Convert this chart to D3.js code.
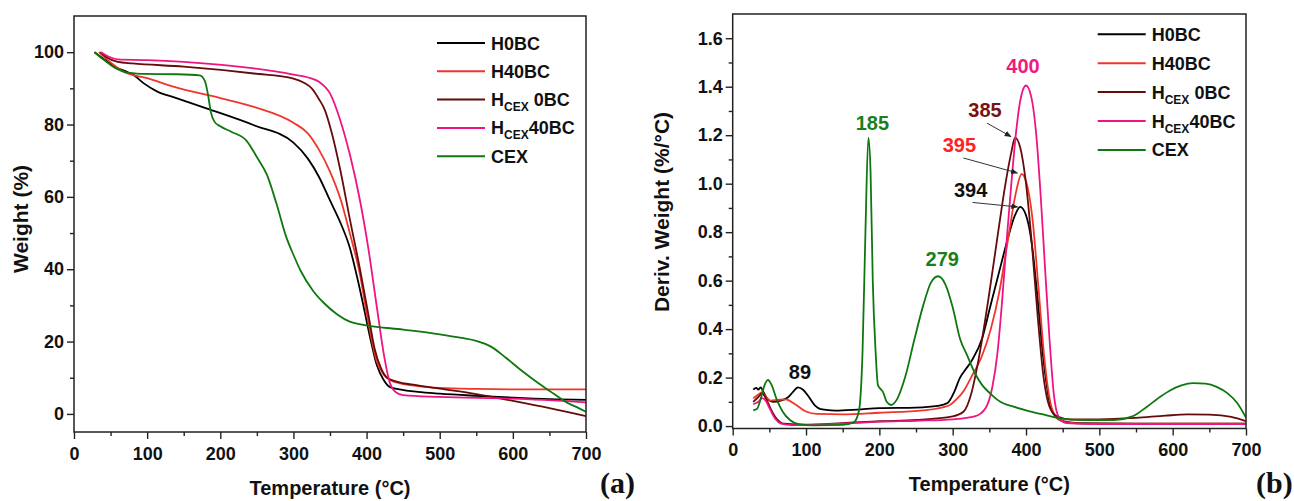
<!DOCTYPE html>
<html>
<head>
<meta charset="utf-8">
<script src="https://cdn.jsdelivr.net/npm/d3@7"></script>
<style>
    body { margin: 0; background: #fff; }
    text { font-family: "Liberation Sans", Arial, sans-serif; font-weight: bold; }
</style>
</head>
<body>
<div id="chart"></div>
<script>

// ---- data ----
const seriesKeys = ["H0BC", "H40BC", "HCEX0BC", "HCEX40BC", "CEX"];
const seriesColors = ["#000000", "#f2352b", "#650b0b", "#ef1481", "#0e780e"];

// TGA: [temperature °C, weight %]
const tgaH0BC = [[28,100],[40,98.2],[55,96],[70,94.8],[82,93.6],[96,91.3],[114,89.1],[137,87.5],[182,84.4],[246,79.8],[300,75],
    [320,70.5],[335,65.5],[350,59],[365,52.5],[377,46],[388,37],[396,29.6],[405,21],[414,13.5],[423,9.5],[432,7.4],[445,6.8],
    [470,6.1],[500,5.6],[550,5],[600,4.5],[650,4.1],[700,3.9]];
const tgaH40BC = [[34,100],[45,98],[68,94.6],[100,92.8],[137,90.4],[200,87.3],[246,84.9],[300,80.5],[320,77.5],[335,73],
    [350,67],[365,59],[377,50],[391,38.5],[400,28],[414,14.5],[423,11],[432,9.4],[445,8.5],[470,7.7],[500,7.2],[550,6.9],
    [600,6.8],[700,6.8]];
const tgaHCEX0BC = [[36,100],[45,98.5],[60,97.3],[80,96.9],[150,96],[246,94.1],[300,92.7],[315,91.5],[325,90],[335,87],
    [343,84],[352,78],[364,67.5],[377,54],[391,40],[402,28],[411,18],[420,12.5],[428,10],[440,9],[470,7.9],[500,7],
    [550,5.5],[600,3.6],[650,1.6],[700,-0.6]];
const tgaHCEX40BC = [[37,100],[47,98.8],[60,98],[100,97.8],[150,97.3],[246,95.5],[300,93.8],[320,93],[335,91.8],[350,88.6],
    [364,81.2],[378,71],[391,59],[403,45],[414,29.6],[424,16],[432,8.5],[440,6],[450,5.2],[500,4.7],[600,4.2],[700,3.2]];
const tgaCEX = [[28,100],[40,98],[55,95.8],[75,94.3],[100,94],[140,93.9],[172,93.6],[179,92],[183,88.5],[187,83.5],[192,80.8],
    [200,79.5],[215,78],[236,75.5],[250,71],[264,66],[277,58],[290,49],[300,44],[310,39.5],[327,34],[341,30.8],[360,27.5],
    [377,25.5],[400,24.5],[450,23.3],[500,22],[530,21],[550,20.2],[570,18.6],[590,15.6],[610,12.3],[635,8.5],[655,5.7],
    [675,3],[690,1.6],[700,0.6]];

// DTG: [temperature °C, deriv. weight %/°C]
const dtgH0BC = [[28,0.15],[32,0.158],[35,0.15],[38,0.16],[42,0.14],[48,0.11],[55,0.1],[65,0.105],[75,0.118],[82,0.14],
    [89,0.16],[96,0.15],[104,0.12],[112,0.085],[120,0.07],[140,0.064],[170,0.068],[200,0.074],[250,0.076],[280,0.083],
    [293,0.095],[302,0.14],[310,0.2],[318,0.235],[326,0.27],[340,0.36],[351,0.49],[362,0.62],[374,0.76],[385,0.87],
    [392,0.904],[400,0.87],[408,0.75],[416,0.52],[424,0.27],[432,0.1],[440,0.04],[450,0.02],[470,0.012],[550,0.01],[700,0.01]];
const dtgH40BC = [[28,0.115],[35,0.13],[40,0.14],[45,0.12],[52,0.105],[62,0.108],[72,0.11],[85,0.09],[100,0.06],[115,0.05],
    [150,0.048],[200,0.055],[260,0.065],[295,0.085],[305,0.11],[315,0.145],[325,0.2],[340,0.29],[352,0.4],[364,0.56],
    [376,0.78],[386,0.96],[394,1.04],[401,1.0],[409,0.85],[417,0.57],[425,0.28],[433,0.1],[442,0.035],[455,0.015],
    [480,0.01],[700,0.01]];
const dtgHCEX0BC = [[28,0.1],[35,0.12],[40,0.135],[46,0.11],[52,0.07],[60,0.03],[70,0.01],[100,0.006],[150,0.012],[200,0.02],
    [250,0.025],[300,0.04],[315,0.06],[325,0.13],[335,0.27],[350,0.55],[362,0.8],[372,1.0],[380,1.13],[385,1.19],[392,1.15],
    [400,1.0],[408,0.75],[416,0.45],[424,0.2],[432,0.08],[442,0.04],[460,0.028],[500,0.028],[550,0.034],[590,0.043],
    [620,0.048],[650,0.047],[680,0.038],[700,0.02]];
const dtgHCEX40BC = [[28,0.09],[35,0.1],[40,0.115],[45,0.105],[50,0.075],[58,0.03],[66,0.01],[80,0.004],[150,0.01],[200,0.018],
    [250,0.022],[300,0.028],[330,0.04],[345,0.075],[354,0.16],[361,0.3],[367,0.5],[374,0.78],[380,1.0],[386,1.2],[392,1.34],
    [400,1.405],[407,1.36],[414,1.2],[420,0.95],[426,0.65],[432,0.36],[438,0.13],[445,0.035],[455,0.012],[500,0.008],[700,0.008]];
const dtgCEX = [[28,0.065],[33,0.07],[38,0.11],[43,0.165],[48,0.19],[53,0.17],[60,0.11],[68,0.06],[78,0.025],[90,0.008],
    [110,0.003],[150,0.005],[165,0.015],[172,0.06],[177,0.3],[181,0.8],[185,1.19],[188,1.05],[191,0.6],[195,0.3],[198,0.17],
    [201,0.155],[205,0.14],[210,0.1],[216,0.087],[224,0.11],[235,0.2],[248,0.36],[260,0.5],[270,0.59],[280,0.618],[290,0.585],
    [300,0.49],[310,0.36],[320,0.29],[330,0.22],[340,0.17],[351,0.135],[365,0.1],[383,0.08],[400,0.065],[420,0.05],[450,0.03],
    [480,0.025],[520,0.025],[545,0.04],[565,0.08],[585,0.125],[597,0.148],[612,0.168],[628,0.177],[645,0.175],[660,0.162],
    [675,0.135],[688,0.095],[700,0.035]];

// peak labels on the DTG panel
const peakTemps = [89, 185, 279, 385, 395, 394, 400];
const peakValues = [0.16, 1.19, 0.618, 1.19, 1.04, 0.904, 1.405];
const peakSeries = ["H0BC", "CEX", "CEX", "HCEX0BC", "H40BC", "H0BC", "HCEX40BC"];

const xTicks = [0, 100, 200, 300, 400, 500, 600, 700];
const xMinorTicks = [50, 150, 250, 350, 450, 550, 650];
const tgaTicks = [0, 20, 40, 60, 80, 100];
const tgaMinorTicks = [10, 30, 50, 70, 90];
const dtgTicks = [0, 0.2, 0.4, 0.6, 0.8, 1.0, 1.2, 1.4, 1.6];
const dtgMinorTicks = [0.1, 0.3, 0.5, 0.7, 0.9, 1.1, 1.3, 1.5];


class ThermoPanel {

    constructor(svg, config) {
        this.svg = svg;
        this.config = config;
        this.initVis();
    }

    initVis() {
        let vis = this;
        let c = vis.config;

        vis.g = vis.svg.append("g")
            .attr("transform", `translate(${c.left}, ${c.top})`);

        vis.x = d3.scaleLinear().domain([0, 700]).range([0, c.width]);
        vis.y = d3.scaleLinear().domain(c.yDomain).range([c.height, 0]);

        // minor ticks
        vis.g.append("g")
            .attr("transform", `translate(0, ${c.height})`)
            .call(d3.axisBottom(vis.x).tickValues(xMinorTicks).tickSize(4).tickFormat(""))
            .call(g => g.select(".domain").remove());
        vis.g.append("g")
            .call(d3.axisLeft(vis.y).tickValues(c.yMinor).tickSize(4).tickFormat(""))
            .call(g => g.select(".domain").remove());

        // major ticks
        vis.g.append("g")
            .attr("class", "x-axis")
            .attr("transform", `translate(0, ${c.height})`)
            .call(d3.axisBottom(vis.x).tickValues(xTicks).tickSize(7).tickPadding(8))
            .call(g => g.select(".domain").remove());
        vis.g.append("g")
            .attr("class", "y-axis")
            .call(d3.axisLeft(vis.y).tickValues(c.yTicks).tickSize(7).tickPadding(3).tickFormat(c.yFormat))
            .call(g => g.select(".domain").remove());

        vis.g.selectAll(".tick line").attr("stroke", "#222").attr("stroke-width", 1.4);
        vis.g.selectAll(".tick text")
            .attr("fill", "#111")
            .style("font-size", "18px")
            .style("font-family", "'Liberation Sans', Arial, sans-serif")
            .style("font-weight", "bold");

        // curves
        vis.line = d3.line()
            .x(d => vis.x(d[0]))
            .y(d => vis.y(d[1]))
            .curve(d3.curveMonotoneX);

        vis.g.append("defs").append("clipPath")
            .attr("id", "clip-" + c.id)
            .append("rect")
            .attr("width", c.width)
            .attr("height", c.height);

        vis.g.append("g")
            .attr("clip-path", `url(#clip-${c.id})`)
            .selectAll("path")
            .data(c.series)
            .join("path")
            .attr("d", d => vis.line(d.values))
            .attr("fill", "none")
            .attr("stroke", d => d.color)
            .attr("stroke-width", 1.8);

        // frame
        vis.g.append("rect")
            .attr("width", c.width)
            .attr("height", c.height)
            .attr("fill", "none")
            .attr("stroke", "#222")
            .attr("stroke-width", 1.5);

        // axis titles
        vis.g.append("text")
            .attr("x", c.width / 2)
            .attr("y", c.xTitleY)
            .attr("text-anchor", "middle")
            .attr("fill", "#111")
            .style("font-size", "20px")
            .text("Temperature (°C)");

        vis.g.append("text")
            .attr("transform", `translate(${c.yTitleX}, ${c.yTitleY}) rotate(-90)`)
            .attr("text-anchor", "middle")
            .attr("fill", "#111")
            .style("font-size", "21px")
            .text(c.yTitle);

        // panel letter
        vis.g.append("text")
            .attr("x", c.width + c.letterDx)
            .attr("y", c.letterY)
            .attr("fill", "#111")
            .style("font-family", "'Liberation Serif', 'Times New Roman', serif")
            .style("font-size", "30px")
            .text(c.letter);

        vis.drawLegend();
    }

    drawLegend() {
        let vis = this;
        let c = vis.config;

        let legend = vis.g.append("g")
            .attr("transform", `translate(${c.legendX}, ${c.legendY})`);

        let rows = legend.selectAll("g")
            .data(c.series)
            .join("g")
            .attr("transform", (d, i) => `translate(0, ${i * c.legendStep})`);

        rows.append("line")
            .attr("x1", 0)
            .attr("x2", 48)
            .attr("stroke", d => d.color)
            .attr("stroke-width", 2);

        rows.append("text")
            .attr("x", 54)
            .attr("y", 6.5)
            .attr("fill", "#111")
            .style("font-size", "18px")
            .each(function (d) {
                let t = d3.select(this);
                if (d.key.startsWith("HCEX")) {
                    t.append("tspan").text("H");
                    t.append("tspan").attr("dy", 5).style("font-size", "12px").text("CEX");
                    t.append("tspan").attr("dy", -5).text(d.key === "HCEX0BC" ? " 0BC" : "40BC");
                } else {
                    t.text(d.key);
                }
            });
    }
}


let svg = d3.select("#chart").append("svg")
    .attr("width", 1294)
    .attr("height", 501);

svg.append("defs").append("marker")
    .attr("id", "arrow")
    .attr("viewBox", "0 0 10 10")
    .attr("refX", 9)
    .attr("refY", 5)
    .attr("markerWidth", 7)
    .attr("markerHeight", 7)
    .attr("orient", "auto")
    .append("path")
    .attr("d", "M0,1 L10,5 L0,9 Z")
    .attr("fill", "#222");

const tgaData = [tgaH0BC, tgaH40BC, tgaHCEX0BC, tgaHCEX40BC, tgaCEX];
const dtgData = [dtgH0BC, dtgH40BC, dtgHCEX0BC, dtgHCEX40BC, dtgCEX];

let tgaPanel = new ThermoPanel(svg, {
    id: "a", left: 74, top: 16, width: 512, height: 416,
    yDomain: [-5, 110], yTicks: tgaTicks, yMinor: tgaMinorTicks, yFormat: d3.format("d"),
    yTitle: "Weight (%)", yTitleX: -46, yTitleY: 203, xTitleY: 479,
    letter: "(a)", letterDx: 14, letterY: 477,
    legendX: 363, legendY: 27, legendStep: 28.3,
    series: seriesKeys.map((k, i) => ({key: k, color: seriesColors[i], values: tgaData[i]}))
});

let dtgPanel = new ThermoPanel(svg, {
    id: "b", left: 732.7, top: 14, width: 513.3, height: 414.5,
    yDomain: [-0.01, 1.7], yTicks: dtgTicks, yMinor: dtgMinorTicks, yFormat: d3.format(".1f"),
    yTitle: "Deriv. Weight (%/°C)", yTitleX: -64, yTitleY: 198, xTitleY: 477,
    letter: "(b)", letterDx: 10, letterY: 479,
    legendX: 365, legendY: 20.3, legendStep: 28.9,
    series: seriesKeys.map((k, i) => ({key: k, color: seriesColors[i], values: dtgData[i]}))
});

// peak labels
const labelColors = {H0BC: "#111", H40BC: "#ff2222", HCEX0BC: "#7a1111", HCEX40BC: "#f01a80", CEX: "#1a7f1a"};
// label offset from the peak (px) and, for the crowded ones, arrow start/end offsets
const labelLayout = [
    {dx: 2, dy: -8},
    {dx: 4, dy: -8},
    {dx: 5, dy: -10},
    {dx: -30, dy: -21, ax: -28, ay: -14.5, bx: -4, by: -1},
    {dx: -63, dy: -22, ax: -59, ay: -16, bx: -5, by: -1},
    {dx: -51, dy: -10, ax: -49, ay: -4.5, bx: -4, by: 0},
    {dx: -3, dy: -13}
];

let ann = dtgPanel.g.append("g").attr("class", "peak-labels");

peakTemps.forEach((t, i) => {
    let px = dtgPanel.x(t);
    let py = dtgPanel.y(peakValues[i]);
    let l = labelLayout[i];

    ann.append("text")
        .attr("x", px + l.dx)
        .attr("y", py + l.dy)
        .attr("text-anchor", "middle")
        .attr("fill", labelColors[peakSeries[i]])
        .style("font-size", "20px")
        .text(t);

    if (l.ax !== undefined) {
        ann.append("line")
            .attr("x1", px + l.ax)
            .attr("y1", py + l.ay)
            .attr("x2", px + l.bx)
            .attr("y2", py + l.by)
            .attr("stroke", "#333")
            .attr("stroke-width", 1)
            .attr("marker-end", "url(#arrow)");
    }
});

</script>
</body>
</html>
